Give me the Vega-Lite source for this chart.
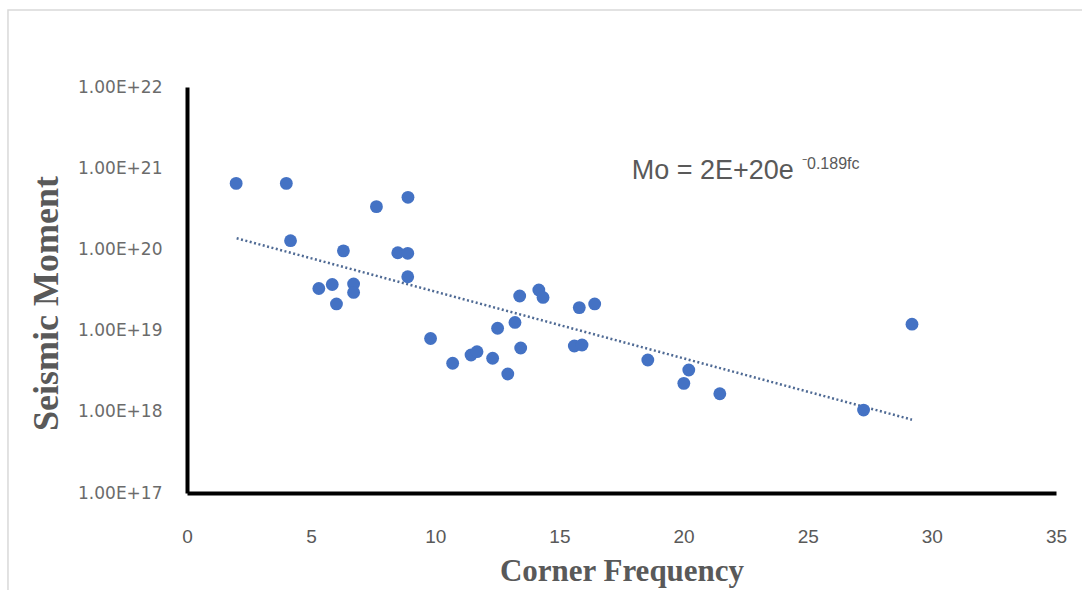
{
  "$schema": "https://vega.github.io/schema/vega-lite/v6.json",
  "width": 869,
  "height": 406,
  "autosize": "none",
  "padding": {"left": 187, "top": 87, "right": 26, "bottom": 97},
  "background": "white",
  "config": {"view": {"stroke": null}},
  "datasets": {
    "points": [
      {"fc": 1.98, "Mo": 6.5e20}, {"fc": 4.0, "Mo": 6.5e20}, {"fc": 4.17, "Mo": 1.28e20},
      {"fc": 7.63, "Mo": 3.36e20}, {"fc": 8.9, "Mo": 4.38e20}, {"fc": 6.3, "Mo": 9.6e19},
      {"fc": 8.49, "Mo": 9.1e19}, {"fc": 8.89, "Mo": 8.95e19}, {"fc": 8.89, "Mo": 4.6e19},
      {"fc": 5.31, "Mo": 3.3e19}, {"fc": 5.85, "Mo": 3.7e19}, {"fc": 6.02, "Mo": 2.13e19},
      {"fc": 6.71, "Mo": 3.75e19}, {"fc": 6.71, "Mo": 2.95e19}, {"fc": 9.81, "Mo": 8.0e18},
      {"fc": 10.7, "Mo": 3.96e18}, {"fc": 11.44, "Mo": 5.0e18}, {"fc": 11.68, "Mo": 5.5e18},
      {"fc": 12.31, "Mo": 4.56e18}, {"fc": 12.92, "Mo": 2.92e18}, {"fc": 12.51, "Mo": 1.07e19},
      {"fc": 13.21, "Mo": 1.26e19}, {"fc": 13.4, "Mo": 2.67e19}, {"fc": 14.17, "Mo": 3.16e19},
      {"fc": 14.34, "Mo": 2.56e19}, {"fc": 13.44, "Mo": 6.1e18}, {"fc": 15.8, "Mo": 1.92e19},
      {"fc": 16.42, "Mo": 2.13e19}, {"fc": 15.6, "Mo": 6.46e18}, {"fc": 15.91, "Mo": 6.65e18},
      {"fc": 18.56, "Mo": 4.35e18}, {"fc": 20.21, "Mo": 3.27e18}, {"fc": 20.01, "Mo": 2.24e18},
      {"fc": 21.46, "Mo": 1.67e18}, {"fc": 27.25, "Mo": 1.05e18}, {"fc": 29.2, "Mo": 1.2e19}
    ],
    "trend": [{"fc": 2.0, "Mo": 1.37e20}, {"fc": 29.2, "Mo": 8.0e17}],
    "eqMain": [{"fc": 17.91, "Mo": 7.3e20, "label": "Mo = 2E+20e"}],
    "eqSup": [{"fc": 24.77, "Mo": 9.8e20, "label": "\u207b0.189fc"}],
    "frame": [{"fc": -7.21, "fc2": 40, "Mo": 8.87e22, "Mo2": 1e15}]
  },
  "layer": [
    {
      "data": {"name": "frame"},
      "mark": {"type": "rect", "fill": null, "stroke": "#d9d9d9", "strokeWidth": 1.5},
      "encoding": {
        "x": {"field": "fc", "type": "quantitative"},
        "x2": {"field": "fc2"},
        "y": {"field": "Mo", "type": "quantitative"},
        "y2": {"field": "Mo2"}
      }
    },
    {
      "data": {"name": "trend"},
      "mark": {"type": "line", "color": "#4f6a94", "strokeWidth": 2.5, "strokeDash": [2, 2.5]},
      "encoding": {
        "x": {
          "field": "fc", "type": "quantitative",
          "scale": {"domain": [0, 35], "nice": false, "zero": false},
          "axis": {
            "title": "Corner Frequency", "values": [0, 5, 10, 15, 20, 25, 30, 35],
            "grid": false, "ticks": false, "domainColor": "black", "domainWidth": 4,
            "labelFlush": false,
            "labelFont": "Liberation Sans", "labelFontSize": 19, "labelColor": "#595959",
            "labelPadding": 34, "labelBaseline": "top",
            "titleFont": "Liberation Serif", "titleFontSize": 31, "titleFontWeight": "bold",
            "titleColor": "#595959", "titlePadding": 10
          }
        },
        "y": {
          "field": "Mo", "type": "quantitative",
          "scale": {"type": "log", "domain": [1e17, 1e22], "nice": false},
          "axis": {
            "title": "Seismic  Moment", "values": [1e17, 1e18, 1e19, 1e20, 1e21, 1e22],
            "labelExpr": "upper(format(datum.value, '.2e'))",
            "labelFlush": false,
            "grid": false, "ticks": false, "domainColor": "black", "domainWidth": 4,
            "labelFont": "DejaVu Sans", "labelFontSize": 17, "labelColor": "#6b6b6b",
            "labelPadding": 25,
            "titleFont": "Liberation Serif", "titleFontSize": 36, "titleFontWeight": "bold",
            "titleColor": "#595959", "titlePadding": 12, "titleY": 216
          }
        }
      }
    },
    {
      "data": {"name": "points"},
      "mark": {"type": "circle", "color": "#4472c4", "opacity": 1, "size": 165},
      "encoding": {
        "x": {"field": "fc", "type": "quantitative"},
        "y": {"field": "Mo", "type": "quantitative"}
      }
    },
    {
      "data": {"name": "eqMain"},
      "mark": {"type": "text", "align": "left", "baseline": "alphabetic", "font": "Liberation Sans", "fontSize": 27, "color": "#595959"},
      "encoding": {
        "x": {"field": "fc", "type": "quantitative"},
        "y": {"field": "Mo", "type": "quantitative"},
        "text": {"field": "label"}
      }
    },
    {
      "data": {"name": "eqSup"},
      "mark": {"type": "text", "align": "left", "baseline": "alphabetic", "font": "Liberation Sans", "fontSize": 16, "color": "#595959"},
      "encoding": {
        "x": {"field": "fc", "type": "quantitative"},
        "y": {"field": "Mo", "type": "quantitative"},
        "text": {"field": "label"}
      }
    }
  ]
}
